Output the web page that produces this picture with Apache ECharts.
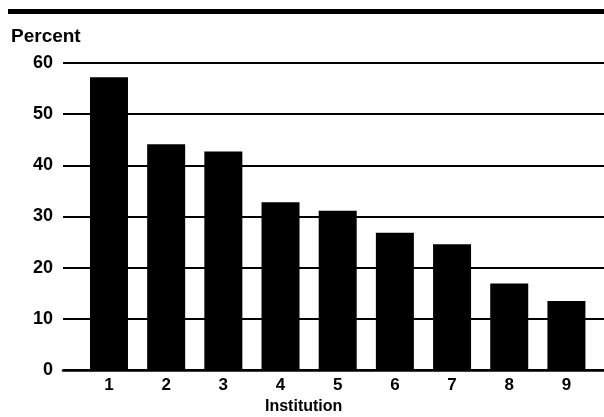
<!DOCTYPE html>
<html>
<head>
<meta charset="utf-8">
<script src="https://cdn.jsdelivr.net/npm/echarts@6/dist/echarts.min.js"></script>
<style>
html,body{margin:0;padding:0;background:#fff;}
#chart{width:604px;height:417px;}
</style>
</head>
<body>
<div id="chart"></div>
<script>
var categories = ['1','2','3','4','5','6','7','8','9'];
var percentValues = [57.2, 44.1, 42.7, 32.8, 31.1, 26.8, 24.6, 16.9, 13.5];
var yTicks = [0, 10, 20, 30, 40, 50, 60];
var yTitle = 'Percent';
var xTitle = 'Institution';

var FONT = '"Liberation Sans", Arial, Helvetica, sans-serif';
var chart = echarts.init(document.getElementById('chart'), null, {renderer: 'canvas'});
chart.setOption({
  backgroundColor: '#fff',
  animation: false,
  title: {
    text: yTitle, left: 11, top: 27, padding: 0,
    textStyle: {fontFamily: FONT, fontSize: 19, fontWeight: 'bold', color: '#000'}
  },
  graphic: [
    {type: 'rect', shape: {x: 8, y: 9, width: 596, height: 5}, style: {fill: '#000'}},
    {type: 'text', left: 265, top: 399, style: {text: xTitle, fontFamily: FONT, fontSize: 16, fontWeight: 'bold', fill: '#000'}}
  ],
  grid: [
    {left: 63, right: 0, top: 63, bottom: 47},
    {left: 80.4, right: 9, top: 63, bottom: 47}
  ],
  xAxis: [
    {type: 'value', gridIndex: 0, min: 0, max: 1,
     axisLine: {show: true, onZero: false, lineStyle: {color: '#000', width: 2.5}},
     axisTick: {show: false}, axisLabel: {show: false}, splitLine: {show: false}},
    {type: 'category', gridIndex: 1, data: categories,
     axisLine: {show: false}, axisTick: {show: false},
     axisLabel: {margin: 7, color: '#000', fontFamily: FONT, fontSize: 17, fontWeight: 'bold'}}
  ],
  yAxis: [
    {type: 'value', gridIndex: 0, min: yTicks[0], max: yTicks[yTicks.length-1], interval: 10,
     axisLine: {show: false}, axisTick: {show: false},
     axisLabel: {margin: 10, color: '#000', fontFamily: FONT, fontSize: 18, fontWeight: 'bold'},
     splitLine: {show: true, lineStyle: {color: '#000', width: 2}}},
    {type: 'value', gridIndex: 1, min: 0, max: 60, interval: 10, show: false}
  ],
  series: [{
    type: 'bar', xAxisIndex: 1, yAxisIndex: 1,
    data: percentValues, barWidth: 38,
    itemStyle: {color: '#000'}
  }]
});
</script>
</body>
</html>
